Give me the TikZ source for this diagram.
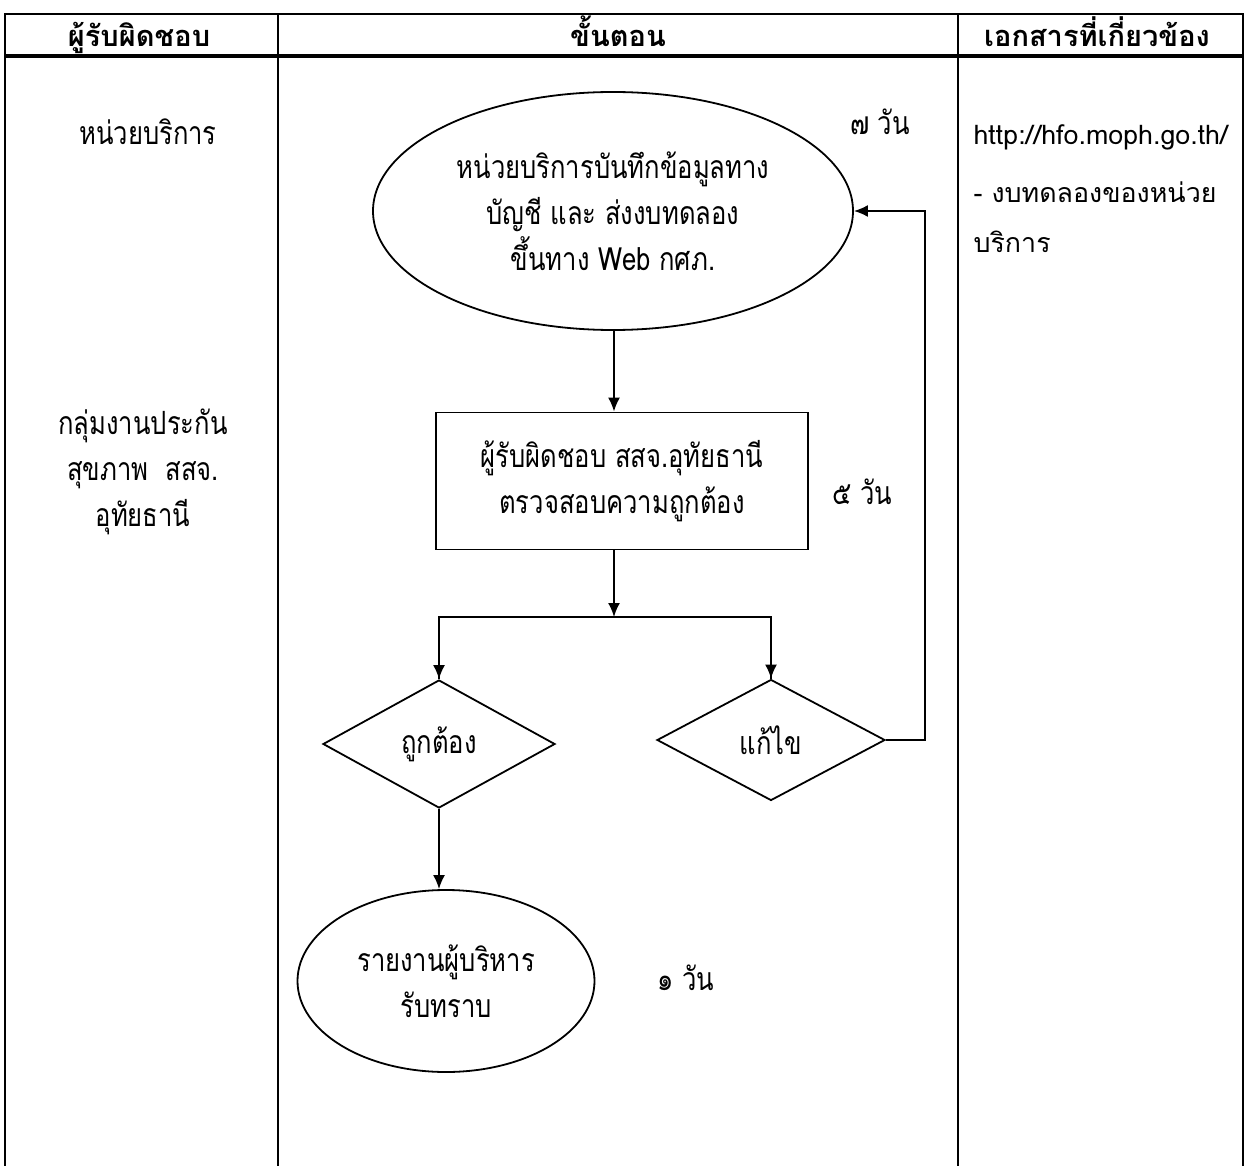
\documentclass[tikz,border=0pt]{standalone}
\usepackage{fontspec}
\setmainfont[Script=Thai]{Loma}
\newfontfamily\narrowthai[Script=Thai,FakeStretch=0.8]{Loma}
\usetikzlibrary{shapes.geometric,arrows.meta}

\begin{document}
\begin{tikzpicture}[x=0.5pt,y=-0.5pt,line width=0.9pt,>={Latex[length=7pt,width=6pt]},
	body/.style={font=\narrowthai\fontsize{16}{23}\selectfont},
	doctext/.style={font=\fontsize{13.4}{25}\selectfont},
	headtext/.style={font=\fontsize{14.5}{18}\selectfont\bfseries,anchor=base},
	oval/.style={draw,ellipse,inner sep=0pt,align=center,body},
	stepbox/.style={draw,rectangle,inner sep=0pt,align=center,body},
	choice/.style={draw,diamond,inner sep=0pt,align=center,body}]
	%\draw[help lines] (0,0) grid (1247,1166);
	\useasboundingbox (0,0) rectangle (1247,1166);

	% table
	\draw (5,1166) -- (5,14) -- (1243,14) -- (1243,1166);
	\draw[line width=1.8pt] (5,56) -- (1243,56);
	\draw (278,14) -- (278,1166);
	\draw (958,14) -- (958,1166);

	\node[headtext] (headWho) at (139,47) {ผู้รับผิดชอบ};
	\node[headtext] (headStep) at (618,47) {ขั้นตอน};
	\node[headtext] (headDoc) at (1097,47) {เอกสารที่เกี่ยวข้อง};

	% who
	\node[body] (whoUnit) at (148,132) {หน่วยบริการ};
	\node[body,align=center] (whoGroup) at (143,472) {กลุ่มงานประกัน\\สุขภาพ~~สสจ.\\อุทัยธานี};

	% documents
	\node[doctext,align=left,anchor=north west] (docLink) at (966,117) {http://hfo.moph.go.th/\\[4pt]- งบทดลองของหน่วย\\บริการ};

	% steps
	\node[oval,minimum width=240pt,minimum height=119pt] (ellRecord) at (613,211) {หน่วยบริการบันทึกข้อมูลทาง\\บัญชี และ ส่งงบทดลอง\\ขึ้นทาง Web กศภ.};
	\node[stepbox,minimum width=186pt,minimum height=68.5pt] (boxCheck) at (622,481) {ผู้รับผิดชอบ สสจ.อุทัยธานี\\ตรวจสอบความถูกต้อง};
	\coordinate (split) at (614,617);
	\node[choice,minimum width=116pt,minimum height=64pt] (decOK) at (439,744) {ถูกต้อง};
	\node[choice,minimum width=114pt,minimum height=60.5pt] (decFix) at (771,740) {แก้ไข};
	\node[oval,minimum width=148.5pt,minimum height=91pt] (ellReport) at (446,981) {รายงานผู้บริหาร\\รับทราบ};

	% days
	\node[body] (dayRecord) at (880,122) {๗ วัน};
	\node[body] (dayCheck) at (862,492) {๕ วัน};
	\node[body] (dayReport) at (686,978) {๑ วัน};

	\draw[->] (ellRecord.south -| split) -- (boxCheck.north -| split);
	\draw[->] (boxCheck.south -| split) -- (split);
	\draw (split) -| (decOK.north);
	\draw (split) -| (decFix.north);
	\draw[->] (split -| decOK) -- (decOK.north);
	\draw[->] (split -| decFix) -- (decFix.north);
	\draw[->] (decFix.east) -- ++(39,0) |- (ellRecord.east);
	\draw[->] (decOK.south) -- (decOK.south |- ellReport.north);

\end{tikzpicture}
\end{document}
